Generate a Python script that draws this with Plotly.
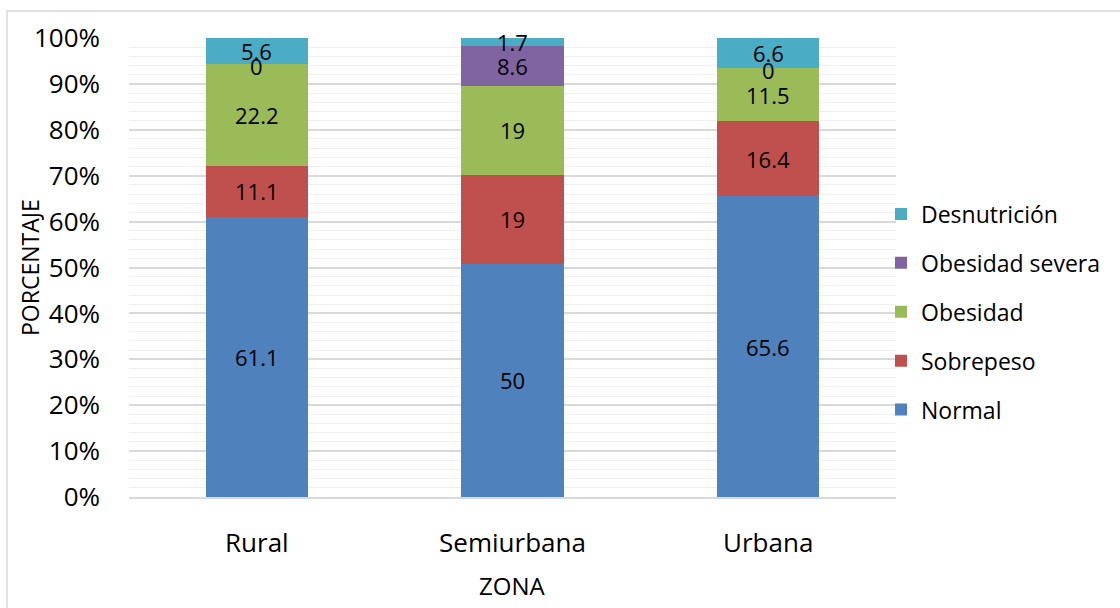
import plotly.graph_objects as go

# Data: nutritional status by zone (percent of children in each zone)
zonas = ["Rural", "Semiurbana", "Urbana"]
normal = [61.1, 50, 65.6]
sobrepeso = [11.1, 19, 16.4]
obesidad = [22.2, 19, 11.5]
obesidad_severa = [0, 8.6, 0]
desnutricion = [5.6, 1.7, 6.6]

series_names = ["Normal", "Sobrepeso", "Obesidad", "Obesidad severa", "Desnutrición"]
series_values = [normal, sobrepeso, obesidad, obesidad_severa, desnutricion]
series_colors = ["#4F81BD", "#C0504D", "#9BBB59", "#8064A2", "#4BACC6"]

y_ticks = list(range(0, 101, 10))
y_tick_labels = [f"{t}%" for t in y_ticks]

FONT = "Open Sans"

# Plot-area geometry in pixels (used for paper-coordinate placement)
W, H = 1120, 608
L, R, T, B = 129, 224, 38, 111
PW, PH = W - L - R, H - T - B


def px_to_paper_x(px):
    return (px - L) / PW


def px_to_paper_y(py):
    return (H - B - py) / PH


fig = go.Figure()
n_series = len(series_names)
for k, (name, vals, color) in enumerate(zip(series_names, series_values, series_colors)):
    fig.add_trace(go.Bar(
        name=name,
        x=zonas,
        y=vals,
        width=0.4,
        marker=dict(color=color, line=dict(width=0)),
        legendgroup=name,
        legendrank=n_series - k,  # top of the stack listed first
        hoverinfo="x+y+name",
    ))

# Value labels centred in each stacked segment (100% normalised)
annotations = []
for i, zona in enumerate(zonas):
    total = sum(vals[i] for vals in series_values)
    cum = 0.0
    for vals in series_values:
        v = vals[i]
        center = (cum + v / 2) / total * 100
        cum += v
        annotations.append(dict(
            x=zona, y=center, xref="x", yref="y",
            xanchor="center", yanchor="middle",
            text=f"{v:g}", showarrow=False,
            font=dict(family=FONT, size=22, color="#000000"),
            yshift=-2 if v == 0 else 0,
        ))

# Axis titles
annotations.append(dict(
    x=px_to_paper_x(30), y=px_to_paper_y(268), xref="paper", yref="paper",
    xanchor="center", yanchor="middle",
    text="PORCENTAJE", textangle=-90, showarrow=False,
    font=dict(family=FONT, size=23, color="#000000"),
))
annotations.append(dict(
    x=px_to_paper_x(512), y=px_to_paper_y(585), xref="paper", yref="paper",
    xanchor="center", yanchor="middle",
    text="ZONA", showarrow=False,
    font=dict(family=FONT, size=24, color="#000000"),
))

fig.update_layout(
    width=W, height=H,
    margin=dict(l=L, r=R, t=T, b=B, autoexpand=False),
    barmode="stack",
    barnorm="percent",
    paper_bgcolor="#ffffff",
    plot_bgcolor="#ffffff",
    font=dict(family=FONT, color="#000000"),
    showlegend=True,
    legend=dict(
        traceorder="grouped",
        tracegroupgap=16,
        x=px_to_paper_x(881), y=px_to_paper_y(312),
        xanchor="left", yanchor="middle",
        font=dict(family=FONT, size=23, color="#000000"),
        bgcolor="rgba(0,0,0,0)",
    ),
    annotations=annotations,
    shapes=[dict(
        type="rect", xref="paper", yref="paper",
        x0=px_to_paper_x(7), x1=px_to_paper_x(1140),
        y0=px_to_paper_y(640), y1=px_to_paper_y(11),
        line=dict(color="#d9d9d9", width=1.5),
        fillcolor="rgba(0,0,0,0)", layer="below",
    )],
)

fig.update_xaxes(
    type="category",
    range=[-0.5, 2.5],
    showgrid=False,
    showline=True, linecolor="#d9d9d9", linewidth=1.5,
    ticks="", ticklabelstandoff=22,
    tickfont=dict(family=FONT, size=26, color="#000000"),
    zeroline=False,
)

fig.update_yaxes(
    range=[0, 100],
    tickvals=y_ticks, ticktext=y_tick_labels,
    showgrid=True, gridcolor="#d9d9d9", gridwidth=1.5,
    minor=dict(dtick=2, showgrid=True, gridcolor="#efefef", gridwidth=1),
    showline=False, zeroline=False,
    ticks="", ticklabelstandoff=28,
    tickfont=dict(family=FONT, size=26, color="#000000"),
)

fig.write_html("out.html")
